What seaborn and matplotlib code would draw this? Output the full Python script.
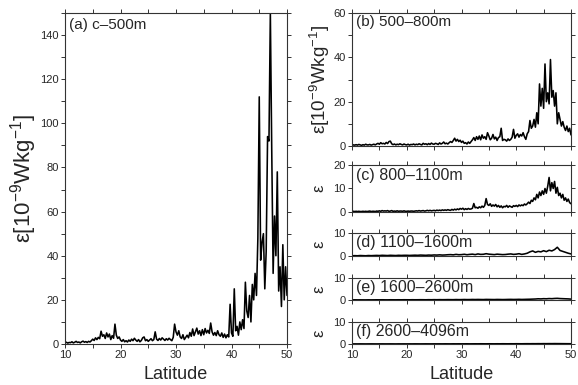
import numpy as np
import pandas as pd
import matplotlib
matplotlib.use('Agg')
import matplotlib.pyplot as plt
import seaborn as sns
from matplotlib.ticker import MultipleLocator

# Latitude grids
lat_fine = np.arange(10, 50.001, 0.25)
lat_coarse = np.arange(10, 50.001, 0.5)

# (a) c-500m, 0.25 deg
eps_a = [0.5, 0.8, 0.4, 0.7, 0.6, 1.0, 0.5, 0.8, 1.2, 0.7, 0.9, 0.5,
         1.0, 1.3, 0.8, 1.1, 0.7, 1.2, 0.9, 1.5, 2.2, 1.6, 2.8, 2.0,
         3.0, 2.4, 5.8, 3.5, 4.2, 2.5, 5.0, 3.2, 4.5, 2.0, 3.8, 2.6,
         9.0, 4.0, 2.5, 3.2, 1.8, 1.2, 2.0, 1.0, 1.5, 0.9, 1.8, 1.2,
         2.2, 1.5, 2.6, 1.8, 1.2, 2.0, 1.0, 1.6, 2.8, 3.2, 1.5, 2.0,
         1.2, 1.8, 2.4, 1.5, 2.0, 5.5, 2.2, 1.6, 2.5, 1.8, 2.8, 2.2,
         1.6, 2.4, 1.8, 2.6, 2.0, 1.5, 3.0, 9.0, 5.5, 4.0, 6.0, 3.2,
         2.5, 4.2, 2.0, 3.0, 4.0, 2.8, 5.2, 3.5, 6.8, 3.8, 5.5, 7.2,
         4.5, 6.0, 3.8, 6.5, 4.2, 7.0, 5.0, 6.2, 4.8, 9.5, 5.5, 4.0,
         5.2, 3.8, 6.0, 4.2, 3.5, 5.0, 3.0, 4.5, 2.8, 4.2, 3.2, 18.0,
         5.0, 3.5, 25.0, 6.0, 8.0, 4.0, 10.0, 6.5, 11.0, 7.0, 28.0, 15.0,
         12.0, 22.0, 10.0, 27.0, 20.0, 32.0, 22.0, 48.0, 112.0, 38.0, 46.0, 50.0,
         25.0, 42.0, 94.0, 92.0, 150.0, 88.0, 32.0, 58.0, 40.0, 78.0, 24.0, 35.0,
         17.0, 45.0, 20.0, 35.0, 22.0]

# (b) 500-800m, 0.25 deg
eps_b = [0.3, 0.5, 0.4, 0.6, 0.4, 0.7, 0.5, 0.3, 0.6, 0.4, 0.8, 0.5,
         0.5, 0.7, 0.4, 0.6, 0.8, 0.5, 0.9, 1.2, 0.8, 1.5, 1.0, 1.2,
         0.9, 1.6, 1.1, 2.0, 2.2, 1.0, 0.6, 0.9, 0.5, 0.8, 0.6, 1.0,
         0.7, 0.5, 0.9, 0.6, 0.5, 0.8, 0.4, 0.7, 0.6, 0.9, 0.5, 0.8,
         0.6, 1.0, 0.7, 0.5, 1.2, 0.8, 1.0, 0.6, 1.1, 0.7, 1.3, 0.9,
         0.8, 1.2, 1.0, 0.7, 1.4, 0.9, 1.2, 1.8, 1.0, 1.3, 0.9, 1.5,
         2.0, 1.6, 2.5, 3.5, 2.2, 3.0, 2.0, 2.6, 1.6, 2.2, 1.2, 1.5,
         0.9, 1.8, 1.2, 2.0, 2.8, 3.8, 2.5, 4.2, 3.0, 4.5, 2.8, 5.0,
         3.5, 4.2, 3.0, 6.0, 4.5, 2.8, 3.5, 5.2, 3.2, 4.0, 2.5, 3.8,
         4.2, 8.0, 2.5, 3.0, 2.8, 2.2, 3.2, 2.5, 3.0, 4.0, 7.5, 3.5,
         4.8, 5.5, 4.0, 5.2, 4.5, 6.0, 4.2, 3.0, 5.5, 6.5, 11.5, 8.0,
         9.0, 12.0, 8.5, 15.0, 10.0, 28.0, 18.0, 26.0, 17.0, 37.0, 20.0, 24.0,
         19.0, 39.0, 22.0, 25.0, 18.0, 24.0, 10.0, 15.0, 12.0, 9.0, 11.0, 8.5,
         7.0, 9.0, 6.5, 8.0, 5.0]

# (c) 800-1100m, 0.25 deg
eps_c = [0.2, 0.3, 0.2, 0.3, 0.2, 0.3, 0.2, 0.2, 0.3, 0.2, 0.3, 0.2,
         0.3, 0.4, 0.2, 0.3, 0.3, 0.2, 0.4, 0.3, 0.5, 0.3, 0.6, 0.4,
         0.5, 0.4, 0.6, 0.3, 0.4, 0.6, 0.3, 0.4, 0.3, 0.5, 0.3, 0.4,
         0.4, 0.3, 0.5, 0.3, 0.3, 0.4, 0.3, 0.4, 0.4, 0.3, 0.4, 0.5,
         0.4, 0.6, 0.4, 0.5, 0.6, 0.4, 0.5, 0.7, 0.5, 0.7, 0.5, 0.6,
         0.7, 0.5, 0.8, 0.6, 0.8, 0.6, 0.9, 0.7, 0.9, 0.7, 1.0, 0.8,
         0.7, 1.1, 0.8, 1.2, 0.9, 1.3, 1.0, 1.5, 1.2, 1.6, 1.0, 1.4,
         1.1, 1.5, 1.2, 1.3, 1.6, 3.6, 1.8, 2.0, 1.6, 2.2, 1.8, 2.5,
         2.0, 2.8, 5.7, 3.2, 2.8, 3.5, 2.4, 3.0, 2.5, 3.2, 2.2, 2.8,
         2.0, 2.6, 1.8, 2.4, 2.2, 2.8, 2.0, 2.6, 2.3, 2.0, 2.7, 2.4,
         2.8, 2.3, 3.0, 2.6, 3.0, 2.7, 3.4, 3.0, 3.5, 4.2, 3.6, 5.0,
         4.5, 6.0, 5.2, 7.5, 6.0, 8.5, 7.0, 9.0, 7.5, 10.0, 8.0, 11.0,
         14.7, 9.0, 12.5, 10.0, 13.0, 8.0, 10.5, 7.0, 8.0, 6.0, 7.5, 5.0,
         6.0, 4.5, 5.5, 4.0, 3.5]

# (d) 1100-1600m, 0.5 deg
eps_d = [0.1, 0.15, 0.1, 0.2, 0.15, 0.1, 0.2, 0.15, 0.2, 0.25,
         0.2, 0.3, 0.25, 0.2, 0.3, 0.25, 0.2, 0.3, 0.25, 0.3,
         0.3, 0.25, 0.3, 0.35, 0.3, 0.4, 0.35, 0.3, 0.4, 0.35,
         0.45, 0.4, 0.5, 0.4, 0.45, 0.55, 0.6, 0.5, 0.7, 0.55,
         0.6, 0.75, 0.55, 0.7, 0.8, 0.6, 0.9, 0.7, 0.75, 1.0,
         0.8, 0.7, 0.6, 0.8, 0.7, 0.6, 0.65, 0.8, 0.9, 0.7,
         0.8, 1.0, 0.7, 0.9, 1.2, 1.8, 2.2, 1.6, 2.0, 1.8,
         2.3, 1.9, 2.5, 2.2, 2.8, 3.8, 2.4, 2.0, 1.6, 1.2, 0.9]

# (e) 1600-2600m, 0.5 deg
eps_e = [0.05, 0.08, 0.05, 0.07, 0.06, 0.05, 0.08, 0.06, 0.07, 0.09,
         0.08, 0.1, 0.08, 0.07, 0.1, 0.09, 0.08, 0.1, 0.09, 0.11,
         0.1, 0.09, 0.12, 0.1, 0.11, 0.13, 0.12, 0.1, 0.14, 0.12,
         0.15, 0.13, 0.16, 0.14, 0.15, 0.18, 0.16, 0.15, 0.2, 0.17,
         0.18, 0.22, 0.19, 0.2, 0.24, 0.21, 0.25, 0.22, 0.2, 0.26,
         0.24, 0.22, 0.2, 0.25, 0.23, 0.2, 0.22, 0.26, 0.28, 0.24,
         0.26, 0.3, 0.25, 0.28, 0.32, 0.35, 0.4, 0.45, 0.55, 0.5,
         0.6, 0.55, 0.65, 0.6, 0.7, 0.75, 0.65, 0.6, 0.55, 0.5, 0.4]

# (f) 2600-4096m, 0.5 deg
eps_f = [0.04, 0.05, 0.04, 0.06, 0.05, 0.04, 0.05, 0.06, 0.05, 0.04,
         0.05, 0.06, 0.05, 0.05, 0.06, 0.05, 0.04, 0.06, 0.05, 0.06,
         0.05, 0.06, 0.05, 0.07, 0.06, 0.05, 0.06, 0.07, 0.06, 0.05,
         0.07, 0.06, 0.07, 0.06, 0.08, 0.07, 0.06, 0.08, 0.07, 0.08,
         0.07, 0.08, 0.09, 0.07, 0.08, 0.09, 0.08, 0.1, 0.09, 0.08,
         0.1, 0.09, 0.08, 0.1, 0.09, 0.11, 0.1, 0.09, 0.11, 0.1,
         0.12, 0.11, 0.1, 0.12, 0.13, 0.12, 0.14, 0.13, 0.15, 0.14,
         0.16, 0.15, 0.17, 0.16, 0.18, 0.17, 0.16, 0.15, 0.14, 0.13, 0.12]

panel_labels = ['(a) c\u2013500m', '(b) 500\u2013800m', '(c) 800\u20131100m',
                '(d) 1100\u20131600m', '(e) 1600\u20132600m', '(f) 2600\u20134096m']
ylabel_full = 'ε[10$^{-9}$Wkg$^{-1}$]'

sns.set_style('ticks')
plt.rcParams['font.family'] = ['Liberation Sans', 'DejaVu Sans']
plt.rcParams['mathtext.fontset'] = 'custom'
plt.rcParams['mathtext.rm'] = 'Liberation Sans'
plt.rcParams['axes.edgecolor'] = '#333333'
plt.rcParams['axes.linewidth'] = 0.8

fig = plt.figure(figsize=(5.78, 3.85), dpi=100)
W, H = 578.0, 385.0

def box(x0, x1, top, bottom):
    return [x0 / W, 1 - bottom / H, (x1 - x0) / W, (bottom - top) / H]

ax_a = fig.add_axes(box(65, 287, 13, 344))
ax_b = fig.add_axes(box(352, 571, 13, 146))
ax_c = fig.add_axes(box(352, 571, 165, 212))
ax_d = fig.add_axes(box(352, 571, 233, 256))
ax_e = fig.add_axes(box(352, 571, 278, 300))
ax_f = fig.add_axes(box(352, 571, 322, 344))

series = [
    (ax_a, lat_fine, eps_a, 150, 20, 10),
    (ax_b, lat_fine, eps_b, 60, 20, 10),
    (ax_c, lat_fine, eps_c, 20, 10, None),
    (ax_d, lat_coarse, eps_d, 10, 10, None),
    (ax_e, lat_coarse, eps_e, 10, 10, None),
    (ax_f, lat_coarse, eps_f, 10, 10, None),
]

for i, (ax, lat, eps, ytop, ymaj, ymin) in enumerate(series):
    df = pd.DataFrame({'lat': lat, 'eps': eps})
    sns.lineplot(data=df, x='lat', y='eps', ax=ax, color='black', lw=1.15)
    ax.set_xlim(10, 50)
    ax.set_ylim(0, ytop)
    ax.xaxis.set_major_locator(MultipleLocator(10))
    ax.xaxis.set_minor_locator(MultipleLocator(5))
    ax.yaxis.set_major_locator(MultipleLocator(ymaj))
    if ymin:
        ax.yaxis.set_minor_locator(MultipleLocator(ymin))
    ax.tick_params(which='both', direction='out', top=True, right=True,
                   labelsize=8, pad=1.5, color='#333333')
    ax.tick_params(which='major', length=3, width=0.7)
    ax.tick_params(which='minor', length=3, width=0.7)
    ax.set_xlabel('')
    ax.set_ylabel('')
    if ax not in (ax_a, ax_f):
        ax.tick_params(axis='x', labelbottom=False)
    big = ax in (ax_a, ax_b)
    ax.text(0.02, 0.985 if big else 0.93, panel_labels[i],
            transform=ax.transAxes, ha='left', va='top',
            fontsize=11 if big else 11.5)

ax_a.set_xlabel('Latitude', fontsize=13, labelpad=4)
ax_f.set_xlabel('Latitude', fontsize=13, labelpad=4)
ax_a.set_ylabel(ylabel_full, fontsize=16, labelpad=1)
ax_b.set_ylabel(ylabel_full, fontsize=13.5, labelpad=1)
for ax in (ax_c, ax_d, ax_e, ax_f):
    ax.set_ylabel('ε', fontsize=12, labelpad=5)

fig.savefig('out.png', dpi=100)
